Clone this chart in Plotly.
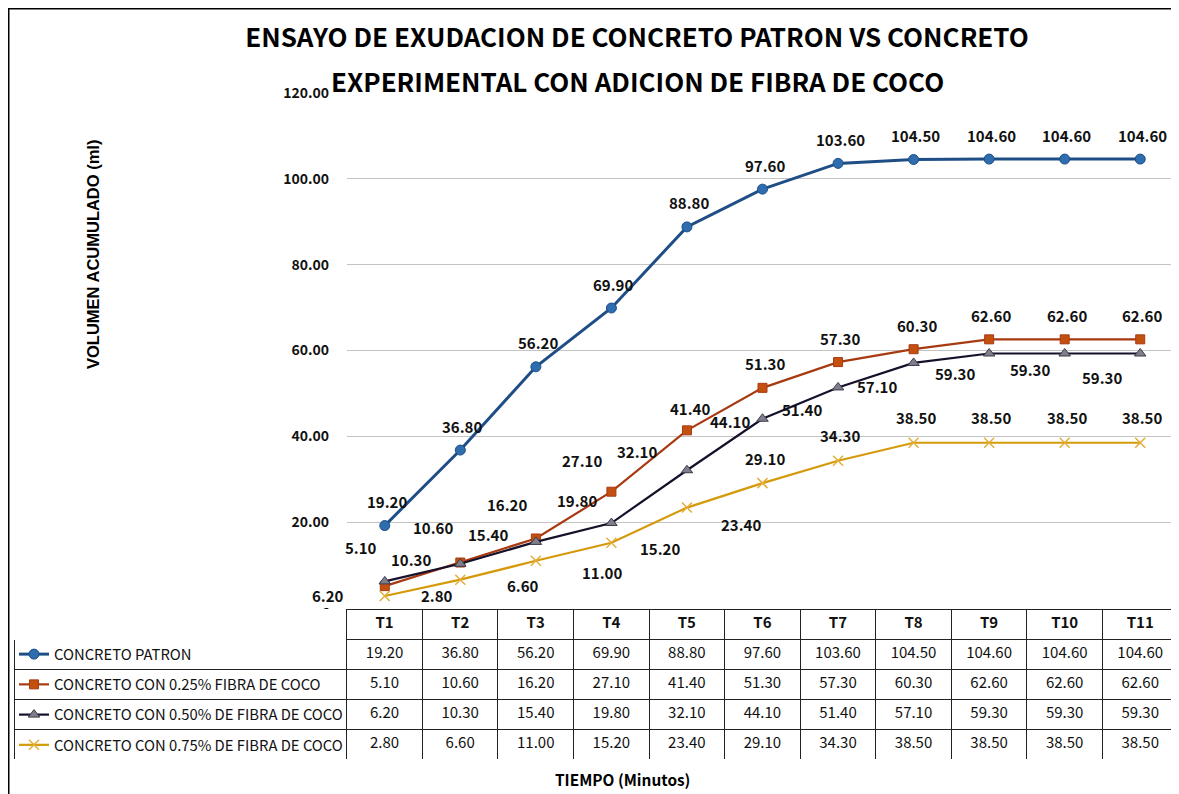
import plotly.graph_objects as go

# la pagina html tiene 8 px de margen en el body
OFF = 8
W, H = 1179 - OFF, 794 - OFF

tiempos = ["T1", "T2", "T3", "T4", "T5", "T6", "T7", "T8", "T9", "T10", "T11"]
patron = [19.20, 36.80, 56.20, 69.90, 88.80, 97.60, 103.60, 104.50, 104.60, 104.60, 104.60]
fibra_025 = [5.10, 10.60, 16.20, 27.10, 41.40, 51.30, 57.30, 60.30, 62.60, 62.60, 62.60]
fibra_050 = [6.20, 10.30, 15.40, 19.80, 32.10, 44.10, 51.40, 57.10, 59.30, 59.30, 59.30]
fibra_075 = [2.80, 6.60, 11.00, 15.20, 23.40, 29.10, 34.30, 38.50, 38.50, 38.50, 38.50]
nombres = [
    "CONCRETO PATRON",
    "CONCRETO CON 0.25% FIBRA DE COCO",
    "CONCRETO CON 0.50% DE FIBRA DE COCO",
    "CONCRETO CON 0.75% DE FIBRA DE COCO",
]
y_ticks = [0, 20, 40, 60, 80, 100, 120]
y_ticktext = ["-", "20.00", "40.00", "60.00", "80.00", "100.00", "120.00"]
titulo = ["ENSAYO DE EXUDACION DE CONCRETO PATRON VS CONCRETO",
          "EXPERIMENTAL CON ADICION DE FIBRA DE COCO"]

series = [patron, fibra_025, fibra_050, fibra_075]

FUENTE = "Noto Sans CJK SC, Liberation Sans, sans-serif"

# estilo de cada serie (linea, marcador)
estilos = [
    dict(line=dict(color="#1F4E86", width=3),
         marker=dict(symbol="circle", size=10, color="#2E6DAE", line=dict(color="#1F4E86", width=1))),
    dict(line=dict(color="#A83A12", width=2.2),
         marker=dict(symbol="square", size=9, color="#C4500F", line=dict(color="#A83A12", width=1))),
    dict(line=dict(color="#16112B", width=2.2),
         marker=dict(symbol="triangle-up", size=10, color="#7F7F8C", line=dict(color="#3A3A4A", width=1))),
    dict(line=dict(color="#D49A0A", width=2.2),
         marker=dict(symbol="x-thin-open", size=10, color="#E3AE3A", line=dict(color="#E3AE3A", width=1.5))),
]

# desplazamiento de las etiquetas (px), como en el grafico de Excel
despl = [
    [(2, -24)] * 11,
    [(-24, -39), (-27, -35), (-29, -34), (-29, -31), (3, -22), (2, -24), (2, -24),
     (3, -24), (2, -24), (2, -24), (2, -24)],
    [(-57, 14), (-49, -4), (-48, -7), (-34, -23), (-50, -19), (-33, 3), (-36, 22),
     (-37, 24), (-34, 20), (-35, 16), (-38, 24)],
    [(52, 0), (63, 6), (66, 12), (49, 6), (54, 17), (2, -25), (2, -25),
     (2, -25), (2, -25), (2, -25), (2, -25)],
]


def px(x):
    return (x - OFF) / W


def py(y):
    return 1 - (y - OFF) / H


fig = go.Figure()

for i, (nombre, vals) in enumerate(zip(nombres, series)):
    fig.add_trace(go.Scatter(
        x=tiempos, y=vals, name=nombre, mode="lines+markers",
        legendgroup=f"g{i}", hoverinfo="x+y",
        **estilos[i],
    ))

# etiquetas de datos
for vals, offs in zip(series, despl):
    for t, v, (dx, dy) in zip(tiempos, vals, offs):
        fig.add_annotation(
            x=t, y=v, xref="x", yref="y", text=f"{v:.2f}", showarrow=False,
            xshift=dx, yshift=-dy,
            font=dict(family=FUENTE, size=15, color="#111111", weight="bold"),
        )

# tabla de datos bajo el grafico
celdas = [[""] * 4] + [[f"{s[j]:.2f}" for s in series] for j in range(len(tiempos))]
fig.add_trace(go.Table(
    domain=dict(x=[px(14), px(1178)], y=[py(759), py(609)]),
    columnwidth=[333] + [75.6] * len(tiempos),
    header=dict(
        values=[""] + tiempos, height=30, align="center",
        fill_color="white",
        line=dict(color=["white"] + ["#222222"] * len(tiempos), width=1),
        font=dict(family=FUENTE, size=15, color="#111111", weight="bold"),
    ),
    cells=dict(
        values=celdas, height=30, align="center",
        fill_color="white",
        line=dict(color="#222222", width=1),
        font=dict(family=FUENTE, size=15, color="#111111"),
    ),
))

fig.update_layout(
    width=W, height=H,
    margin=dict(l=0, r=0, t=0, b=0),
    paper_bgcolor="white", plot_bgcolor="white",
    title=dict(
        text=titulo[0],
        x=px(637), xanchor="center", y=py(38), yanchor="middle",
        font=dict(family=FUENTE, size=26, color="black", weight="bold"),
    ),
    xaxis=dict(
        domain=[px(347), px(1178)], range=[-0.5, len(tiempos) - 0.5],
        showticklabels=False, showgrid=False, zeroline=False, showline=False,
        automargin=False,
    ),
    yaxis=dict(
        domain=[py(608), py(93)], range=[0, 120],
        tickvals=y_ticks, ticktext=y_ticktext,
        showgrid=True, gridcolor="#C4C4C4", gridwidth=1,
        zeroline=False, showline=False, ticks="", ticklabelstandoff=17,
        tickfont=dict(family=FUENTE, size=14, color="#111111", weight="bold"),
        automargin=False,
    ),
    showlegend=True,
    legend=dict(
        x=px(14), y=py(638), xanchor="left", yanchor="top",
        bgcolor="rgba(0,0,0,0)", tracegroupgap=8,
        font=dict(family=FUENTE, size=14.8, color="#111111"),
    ),
    annotations=list(fig.layout.annotations) + [
        dict(text=titulo[1], x=px(637), y=py(80), xref="paper", yref="paper",
             xanchor="center", yanchor="middle", showarrow=False,
             font=dict(family=FUENTE, size=26, color="black", weight="bold")),
        dict(text="VOLUMEN ACUMULADO (ml)", textangle=-90, x=px(93), y=py(255),
             xref="paper", yref="paper", xanchor="center", yanchor="middle", showarrow=False,
             font=dict(family="Liberation Sans, Arial, sans-serif", size=16.5, color="black",
                       weight="bold")),
        dict(text="TIEMPO (Minutos)", x=px(622), y=py(779), xref="paper", yref="paper",
             xanchor="center", yanchor="middle", showarrow=False,
             font=dict(family=FUENTE, size=15.4, color="black", weight="bold")),
    ],
    shapes=[dict(type="rect", xref="paper", yref="paper", x0=0, x1=1.02,
                 y0=-0.02, y1=1, line=dict(color="black", width=3))],
)

fig.write_html("out.html")
